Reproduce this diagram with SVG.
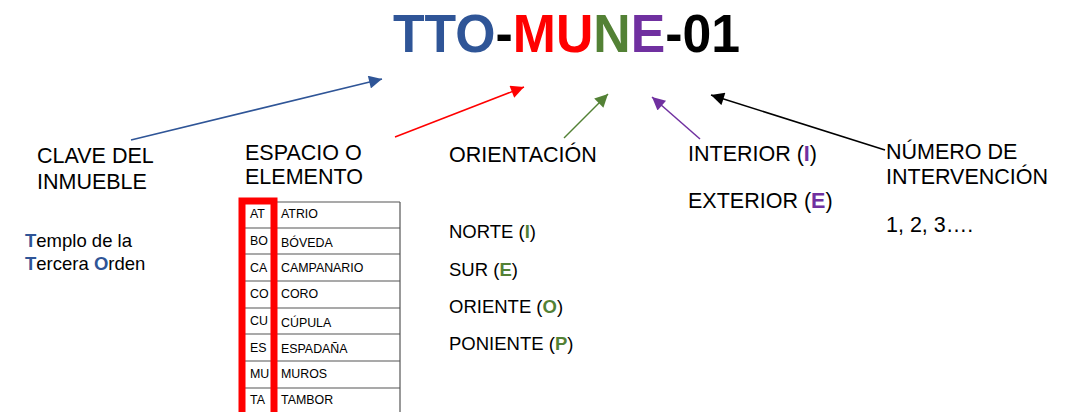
<svg xmlns="http://www.w3.org/2000/svg" width="1065" height="412" viewBox="0 0 1065 412">
<style>
.t{font-family:"Liberation Sans",Arial,sans-serif;fill:#000}
.lab{font-size:21.5px}
.sm{font-size:18.5px}
.tb{font-size:12.4px}
.b{font-weight:bold}
.blue{fill:#2F5597}.red{fill:#FF0000}.green{fill:#538135}.purple{fill:#7030A0}
.row{stroke:#555;stroke-width:1.2}
</style>
<defs>
<marker id="mb" viewBox="0 0 10 10" refX="10" refY="5" markerWidth="15" markerHeight="13" markerUnits="userSpaceOnUse" orient="auto"><path d="M0,0L10,5L0,10z" fill="#2F5597"/></marker>
<marker id="mr" viewBox="0 0 10 10" refX="10" refY="5" markerWidth="15" markerHeight="13" markerUnits="userSpaceOnUse" orient="auto"><path d="M0,0L10,5L0,10z" fill="#FF0000"/></marker>
<marker id="mg" viewBox="0 0 10 10" refX="10" refY="5" markerWidth="15" markerHeight="13" markerUnits="userSpaceOnUse" orient="auto"><path d="M0,0L10,5L0,10z" fill="#538135"/></marker>
<marker id="mp" viewBox="0 0 10 10" refX="10" refY="5" markerWidth="15" markerHeight="13" markerUnits="userSpaceOnUse" orient="auto"><path d="M0,0L10,5L0,10z" fill="#7030A0"/></marker>
<marker id="mk" viewBox="0 0 10 10" refX="10" refY="5" markerWidth="15" markerHeight="13" markerUnits="userSpaceOnUse" orient="auto"><path d="M0,0L10,5L0,10z" fill="#000"/></marker>
</defs>
<rect width="1065" height="412" fill="#fff"/>
<g id="title">
<text class="t b" x="393" y="52" font-size="54" textLength="347" lengthAdjust="spacingAndGlyphs"><tspan class="blue">TTO</tspan><tspan>-</tspan><tspan class="red">MU</tspan><tspan class="green">N</tspan><tspan class="purple">E</tspan><tspan>-01</tspan></text>
</g>
<g id="connectors" fill="none">
<line x1="131" y1="140" x2="382" y2="79" stroke="#2F5597" stroke-width="1.5" marker-end="url(#mb)"/>
<line x1="395" y1="137" x2="524" y2="87" stroke="#FF0000" stroke-width="1.5" marker-end="url(#mr)"/>
<line x1="564" y1="138" x2="608" y2="94" stroke="#538135" stroke-width="1.5" marker-end="url(#mg)"/>
<line x1="700" y1="139" x2="652" y2="97" stroke="#7030A0" stroke-width="1.5" marker-end="url(#mp)"/>
<line x1="885" y1="150" x2="711" y2="95" stroke="#000" stroke-width="1.5" marker-end="url(#mk)"/>
</g>
<g id="clave">
<text class="t lab" x="37" y="163">CLAVE DEL</text>
<text class="t lab" x="37" y="189">INMUEBLE</text>
<text class="t sm" x="25" y="247"><tspan class="b blue">T</tspan>emplo de la</text>
<text class="t sm" x="25" y="270"><tspan class="b blue">T</tspan>ercera <tspan class="b blue">O</tspan>rden</text>
</g>
<g id="espacio">
<text class="t lab" x="245" y="160">ESPACIO O</text>
<text class="t lab" x="245" y="184">ELEMENTO</text>
<g id="tabla">
<line class="row" x1="242" y1="202" x2="400" y2="202"/>
<line class="row" x1="242" y1="228" x2="400" y2="228"/>
<line class="row" x1="242" y1="254" x2="400" y2="254"/>
<line class="row" x1="242" y1="281" x2="400" y2="281"/>
<line class="row" x1="242" y1="308" x2="400" y2="308"/>
<line class="row" x1="242" y1="334" x2="400" y2="334"/>
<line class="row" x1="242" y1="361" x2="400" y2="361"/>
<line class="row" x1="242" y1="388" x2="400" y2="388"/>
<line class="row" x1="400" y1="202" x2="400" y2="412"/>
<text class="t tb" x="250" y="218">AT</text><text class="t tb" x="281" y="218">ATRIO</text>
<text class="t tb" x="250" y="245">BO</text><text class="t tb" x="281" y="247">BÓVEDA</text>
<text class="t tb" x="250" y="272">CA</text><text class="t tb" x="281" y="272">CAMPANARIO</text>
<text class="t tb" x="250" y="298">CO</text><text class="t tb" x="281" y="298">CORO</text>
<text class="t tb" x="250" y="325">CU</text><text class="t tb" x="281" y="327">CÚPULA</text>
<text class="t tb" x="250" y="352">ES</text><text class="t tb" x="281" y="353">ESPADAÑA</text>
<text class="t tb" x="250" y="378">MU</text><text class="t tb" x="281" y="378">MUROS</text>
<text class="t tb" x="250" y="404">TA</text><text class="t tb" x="281" y="404">TAMBOR</text>
<path d="M242,416V201H274V416" fill="none" stroke="#FF0000" stroke-width="7"/>
</g>
</g>
<g id="orientacion">
<text class="t lab" x="449" y="162">ORIENTACIÓN</text>
<text class="t sm" x="449" y="238">NORTE (<tspan class="b green">I</tspan>)</text>
<text class="t sm" x="449" y="276">SUR (<tspan class="b green">E</tspan>)</text>
<text class="t sm" x="449" y="313">ORIENTE (<tspan class="b green">O</tspan>)</text>
<text class="t sm" x="449" y="350">PONIENTE (<tspan class="b green">P</tspan>)</text>
</g>
<g id="interior">
<text class="t lab" x="688" y="161">INTERIOR (<tspan class="b purple">I</tspan>)</text>
<text class="t lab" x="688" y="208">EXTERIOR (<tspan class="b purple">E</tspan>)</text>
</g>
<g id="numero">
<text class="t lab" x="886" y="159">NÚMERO DE</text>
<text class="t lab" x="886" y="184">INTERVENCIÓN</text>
<text class="t lab" x="886" y="232">1, 2, 3….</text>
</g>
</svg>
